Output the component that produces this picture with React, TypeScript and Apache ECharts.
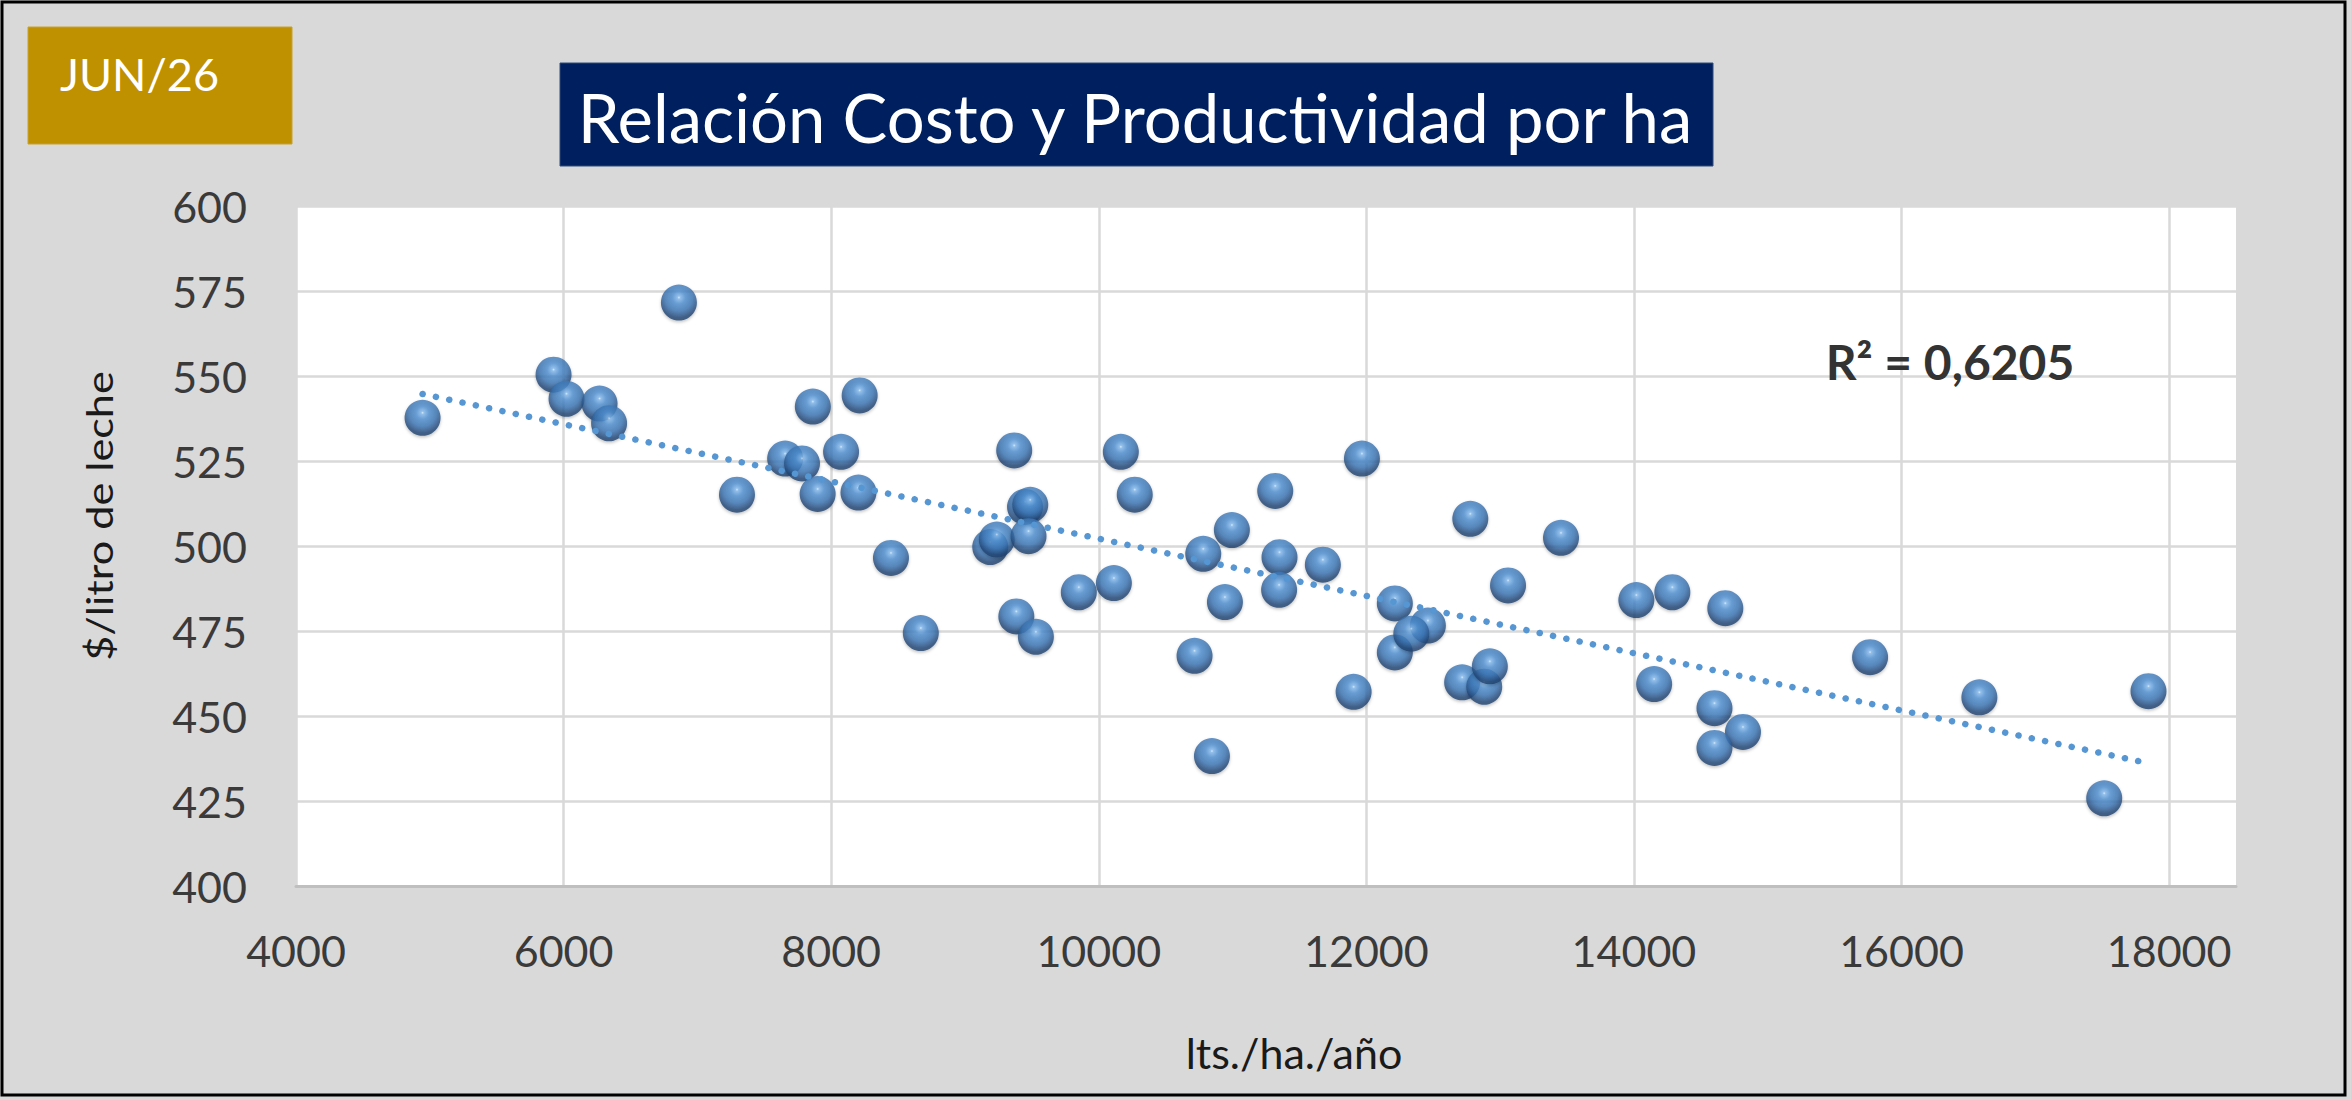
import React, { useEffect, useRef } from "react";
import * as echarts from "echarts";

// lts./ha./año (x) and $/litro de leche (y)
const litrosHa = [4946, 5925, 6022, 6269, 6340, 6862, 7296, 7656, 7782, 7863, 7899, 8074, 8213, 8204, 8447, 8670, 9189, 9238, 9368, 9449, 9488, 9475, 9384, 9530, 9851, 10113, 10165, 10269, 10716, 10781, 10846, 10943, 10995, 11319, 11351, 11348, 11675, 11905, 11967, 12213, 12213, 12460, 12336, 12716, 12777, 12881, 12923, 13059, 13455, 14018, 14287, 14683, 14151, 14602, 14815, 14602, 15765, 16582, 17846, 17515];
const costoLitro = [537.7, 550.4, 543.3, 541.9, 536.1, 571.6, 515.1, 525.7, 524.3, 541.0, 515.3, 527.7, 544.3, 515.7, 496.5, 474.4, 499.7, 501.9, 528.1, 511.5, 512.1, 502.9, 479.3, 473.3, 486.4, 489.1, 527.7, 515.1, 467.7, 497.7, 438.2, 483.5, 504.7, 516.2, 496.7, 487.1, 494.5, 457.1, 525.7, 483.1, 468.7, 476.6, 474.2, 459.9, 508.0, 458.6, 464.6, 488.4, 502.4, 484.1, 486.4, 481.7, 459.4, 452.3, 445.3, 440.6, 467.3, 455.5, 457.3, 425.8];

// linear trendline end points (as drawn)
const trendX = [4946, 17846];
const trendY = [544.7, 436.1];

const xRange = [4000, 18500];
const xStep = 2000;
const yRange = [400, 600];
const yStep = 25;

const titleText = "Relación Costo y Productividad por ha";
const dateText = "JUN/26";
const r2Text = "R² = 0,6205";
const xName = "lts./ha./año";
const yName = "$/litro de leche";

const FONT = "Lato, 'Open Sans', sans-serif";

export default function App() {
  const ref = useRef<HTMLDivElement>(null);

  useEffect(() => {
    if (!ref.current) return;
    const chart = echarts.init(ref.current, undefined, { renderer: "svg" });
    const points = litrosHa.map((x, i) => [x, costoLitro[i]]);
    const trend = trendX.map((x, i) => [x, trendY[i]]);

    chart.setOption({
      animation: false,
      backgroundColor: "#d9d9d9",
      grid: {
        left: 296,
        top: 206,
        width: 1940,
        height: 680,
        show: true,
        backgroundColor: "#ffffff",
        borderWidth: 0,
        containLabel: false,
      },
      xAxis: {
        type: "value",
        min: xRange[0],
        max: xRange[1],
        interval: xStep,
        name: xName,
        nameLocation: "middle",
        nameGap: 166,
        nameTextStyle: {
          fontFamily: FONT,
          fontSize: 43,
          color: "#1a1a1a",
          verticalAlign: "middle",
          padding: [0, 0, 0, 56],
        },
        axisLine: { show: true, lineStyle: { color: "#bfbfbf", width: 3 } },
        axisTick: { show: false },
        axisLabel: {
          fontFamily: FONT,
          fontSize: 43,
          color: "#3a3a3a",
          margin: 64,
          verticalAlign: "middle",
          showMaxLabel: false,
          formatter: (v: number) => String(v),
        },
        splitLine: {
          show: true,
          showMinLine: true,
          showMaxLine: false,
          lineStyle: { color: "#d9d9d9", width: 2.5 },
        },
      },
      yAxis: {
        type: "value",
        min: yRange[0],
        max: yRange[1],
        interval: yStep,
        axisLine: { show: false },
        axisTick: { show: false },
        axisLabel: {
          fontFamily: FONT,
          fontSize: 43,
          color: "#3a3a3a",
          margin: 49,
        },
        splitLine: {
          show: true,
          lineStyle: { color: "#d9d9d9", width: 2.5 },
        },
      },
      series: [
        {
          type: "scatter",
          data: points,
          symbol: "circle",
          symbolSize: 36,
          z: 3,
          itemStyle: {
            color: new echarts.graphic.RadialGradient(0.5, 0.36, 0.68, [
              { offset: 0, color: "#d6ecff" },
              { offset: 0.06, color: "#82b8ec" },
              { offset: 0.26, color: "#4f8fd0" },
              { offset: 0.56, color: "#3a74b3" },
              { offset: 0.82, color: "#214675" },
              { offset: 0.93, color: "#1e406b" },
              { offset: 1, color: "#3a6ea6" },
            ]),
            shadowColor: "rgba(0,0,0,0.3)",
            shadowBlur: 3,
            shadowOffsetY: 1.5,
          },
        },
        {
          type: "line",
          data: trend,
          symbol: "none",
          z: 4,
          lineStyle: {
            color: "#5596d3",
            width: 6.5,
            type: [0.1, 13.5],
            cap: "round",
          },
        },
      ],
      graphic: {
        elements: [
          {
            type: "rect",
            shape: { x: 2, y: 2, width: 2343, height: 1093 },
            style: { fill: "none", stroke: "#000000", lineWidth: 3 },
            silent: true,
            z: 100,
          },
          {
            type: "rect",
            shape: { x: 28, y: 27, width: 264, height: 117 },
            style: { fill: "#bf9000", stroke: "#c9a227", lineWidth: 1 },
            z: 10,
          },
          {
            type: "text",
            x: 60,
            y: 74,
            z: 11,
            style: {
              text: dateText,
              fill: "#ffffff",
              fontFamily: FONT,
              fontSize: 45,
              textAlign: "left",
              textVerticalAlign: "middle",
            },
          },
          {
            type: "rect",
            shape: { x: 560, y: 63, width: 1153, height: 103 },
            style: { fill: "#001f5e", stroke: "#2f4a7a", lineWidth: 1 },
            z: 10,
          },
          {
            type: "text",
            x: 1135,
            y: 117,
            z: 11,
            style: {
              text: titleText,
              fill: "#ffffff",
              fontFamily: FONT,
              fontSize: 67,
              textAlign: "center",
              textVerticalAlign: "middle",
            },
          },
          {
            type: "text",
            x: 1950,
            y: 361,
            z: 11,
            style: {
              text: r2Text,
              fill: "#333333",
              fontFamily: FONT,
              fontWeight: "bold",
              fontSize: 48,
              textAlign: "center",
              textVerticalAlign: "middle",
            },
          },
          {
            type: "text",
            x: 99,
            y: 516,
            rotation: Math.PI / 2,
            scaleX: 1.2,
            z: 11,
            style: {
              text: yName,
              fill: "#1a1a1a",
              fontFamily: FONT,
              fontSize: 36,
              textAlign: "center",
              textVerticalAlign: "middle",
            },
          },
        ],
      },
    });

    return () => chart.dispose();
  }, []);

  return (
    <div
      ref={ref}
      style={{ position: "absolute", left: 0, top: 0, width: 2351, height: 1100 }}
    />
  );
}
